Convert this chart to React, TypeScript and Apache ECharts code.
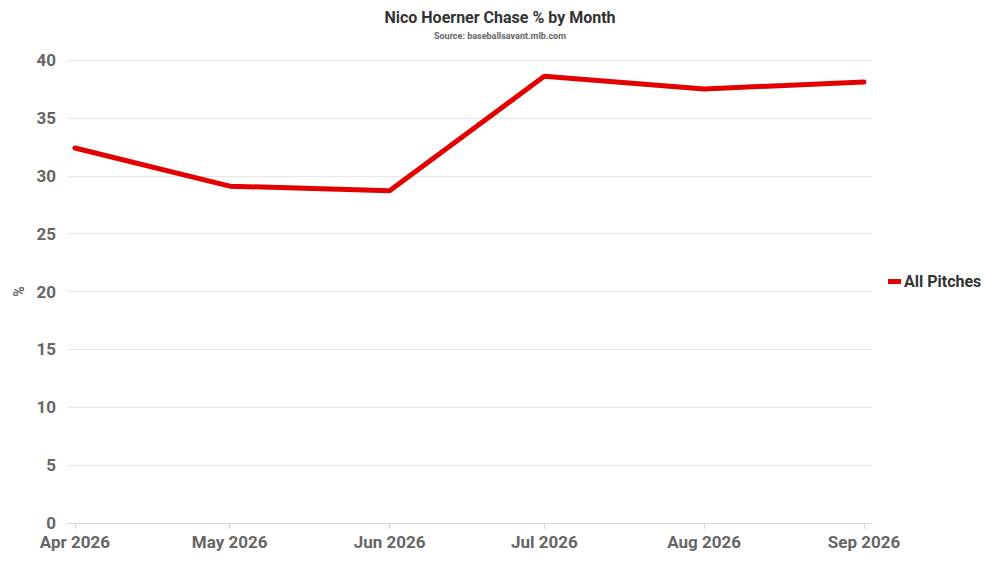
import { useEffect, useRef } from "react";
import * as echarts from "echarts";

const months = ["Apr 2026", "May 2026", "Jun 2026", "Jul 2026", "Aug 2026", "Sep 2026"];
const monthDates = ["2026-04-01", "2026-05-01", "2026-06-01", "2026-07-01", "2026-08-01", "2026-09-01"];
const chaseValues = [32.4, 29.1, 28.7, 38.6, 37.5, 38.1];
const yTicks = [0, 5, 10, 15, 20, 25, 30, 35, 40];

const DAY = 24 * 3600 * 1000;

export default function App(): JSX.Element {
  const chartRef = useRef<HTMLDivElement>(null);

  useEffect(() => {
    // days since the first month, so months keep their real lengths on the axis
    const t0 = Date.parse(monthDates[0] + "T00:00:00Z");
    const days = monthDates.map((d) => Math.round((Date.parse(d + "T00:00:00Z") - t0) / DAY));
    const myChart = echarts.init(chartRef.current, null, { renderer: "svg" });
    const option = {
      animation: false,
      backgroundColor: "#ffffff",
      textStyle: { fontFamily: "Roboto" },
      title: {
        text: "Nico Hoerner Chase % by Month",
        subtext: "Source: baseballsavant.mlb.com",
        left: "center",
        top: 4,
        itemGap: 6,
        textStyle: { fontFamily: "Roboto", fontSize: 16, fontWeight: "bold", color: "#333333" },
        subtextStyle: { fontFamily: "Roboto", fontSize: 9, fontWeight: "bold", color: "#666666" },
      },
      legend: {
        left: 883,
        top: "middle",
        orient: "vertical",
        icon: "rect",
        itemWidth: 13,
        itemHeight: 5,
        itemGap: 5,
        textStyle: { fontFamily: "Roboto", fontSize: 16, fontWeight: "bold", color: "#333333", padding: [0, 0, 0, -2] },
        data: ["All Pitches"],
      },
      grid: { left: 68, right: 128, top: 60, bottom: 40 },
      xAxis: {
        type: "value",
        min: days[0] - 1.35,
        max: days[days.length - 1] + 1.55,
        axisLine: { show: true, onZero: false, lineStyle: { color: "#ccd6eb", width: 1 } },
        axisTick: { show: true, length: 6, customValues: days, lineStyle: { color: "#ccd6eb" } },
        axisLabel: {
          customValues: days,
          formatter: (v: number) => {
            const i = days.indexOf(Math.round(v));
            return i >= 0 ? months[i] : "";
          },
          fontFamily: "Roboto",
          fontSize: 17,
          fontWeight: "bold",
          color: "#666666",
          margin: 10,
        },
        splitLine: { show: false },
      },
      yAxis: {
        type: "value",
        min: yTicks[0],
        max: yTicks[yTicks.length - 1],
        interval: 5,
        name: "%",
        nameLocation: "middle",
        nameGap: 40,
        nameRotate: 90,
        nameTextStyle: { fontFamily: "Roboto", fontSize: 14, fontWeight: "bold", color: "#666666" },
        axisLine: { show: false },
        axisTick: { show: false },
        axisLabel: { fontFamily: "Roboto", fontSize: 17, fontWeight: "bold", color: "#666666", margin: 12 },
        splitLine: { lineStyle: { color: "#e6e6e6", width: 1 } },
      },
      series: [
        {
          name: "All Pitches",
          type: "line",
          data: days.map((d, i) => [d, chaseValues[i]]),
          symbol: "none",
          color: "#e30000",
          lineStyle: { width: 5, color: "#e30000", cap: "round", join: "round" },
        },
      ],
    };
    myChart.setOption(option);
    return () => {
      myChart.dispose();
    };
  }, []);

  return <div ref={chartRef} style={{ width: 1000, height: 563, margin: -8 }}></div>;
}
